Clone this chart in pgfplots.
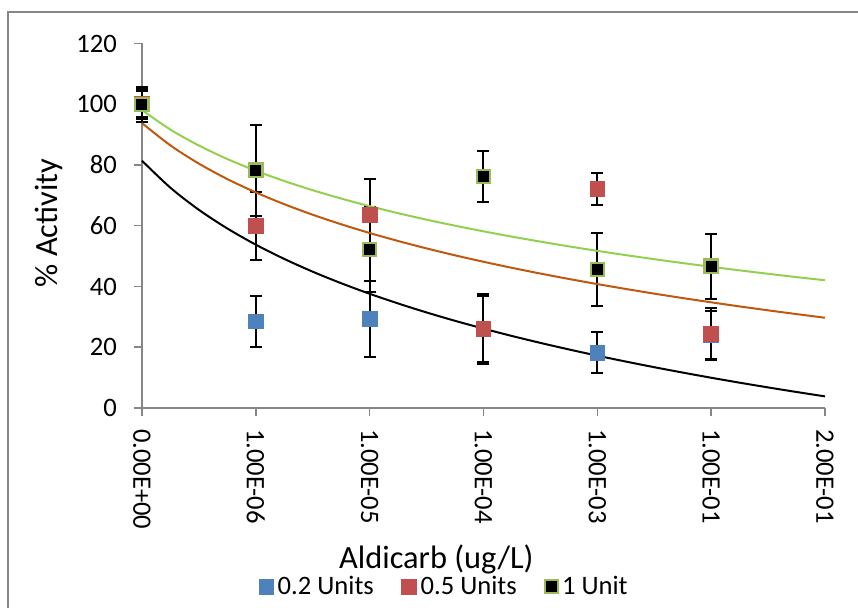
\documentclass[border=0pt]{standalone}
\usepackage{pgfplots}
\pgfplotsset{compat=1.18}
\usepackage{fontspec}
\setmainfont{Carlito}
\definecolor{axgray}{HTML}{868686}
\definecolor{s1}{HTML}{4F81BD}
\definecolor{s2}{HTML}{C0504D}
\definecolor{s3}{HTML}{9BBB59}
\definecolor{t2}{HTML}{C0580E}
\definecolor{t3}{HTML}{92D050}
\begin{document}
\begin{tikzpicture}[x=1pt,y=1pt]
\useasboundingbox (0,0) rectangle (429,304);
\draw[axgray, line width=0.75pt] (4,-5) -- (4,298) -- (435,298);
\begin{axis}[
  at={(71pt,100pt)}, anchor=south west,
  scale only axis, width=341.5pt, height=182.25pt,
  xmin=0, xmax=6, ymin=0, ymax=120,
  axis x line*=bottom, axis y line*=left,
  axis line style={axgray, line width=0.75pt, -},
  xtick={0,1,2,3,4,5,6}, ytick={0,20,40,60,80,100,120},
  xticklabels={0.00E+00,1.00E-06,1.00E-05,1.00E-04,1.00E-03,1.00E-01,2.00E-01},
  tick align=outside, major tick length=4pt,
  tick style={axgray, line width=0.75pt},
  xticklabel style={yshift=-3pt, rotate=-90, anchor=west, font=\fontsize{13.3}{16}\selectfont},
  yticklabel style={xshift=-5pt, font=\fontsize{13.3}{16}\selectfont},
  /pgf/number format/assume math mode=true,
  xlabel={Aldicarb (ug/L)}, ylabel={\% Activity},
  xlabel style={at={(axis description cs:0.431,-0.439)}, anchor=base, font=\fontsize{16.2}{19}\selectfont},
  ylabel style={at={(axis description cs:-0.123,0.5075)}, anchor=base, font=\fontsize{16.2}{19}\selectfont},
  clip=false,
  legend columns=3,
  legend style={at={(axis description cs:0.444,-0.49)}, anchor=center, draw=none, fill=none,
    font=\fontsize{13.3}{16}\selectfont, /tikz/every even column/.append style={column sep=12pt}},
  legend cell align=left,
]
% error bars
\addplot[forget plot, only marks, mark=none,
  error bars/.cd, y dir=both, y explicit,
  error bar style={draw=black, line width=1pt},
  error mark options={draw=black, rotate=90, mark size=3pt, line width=1pt}]
  table[x=x, y=y, y error=e] {
x y e
0 100 4.2
1 28.5 8.3
2 29.4 12.5
3 26.0 11.5
4 18.2 6.8
5 24.0 8.0
};
\addplot[forget plot, only marks, mark=none,
  error bars/.cd, y dir=both, y explicit,
  error bar style={draw=black, line width=1pt},
  error mark options={draw=black, rotate=90, mark size=3pt, line width=1pt}]
  table[x=x, y=y, y error=e] {
x y e
0 100 5.0
1 60.0 11.2
2 63.7 11.7
3 26.0 11.0
4 72.0 5.3
5 24.4 8.5
};
\addplot[forget plot, only marks, mark=none,
  error bars/.cd, y dir=both, y explicit,
  error bar style={draw=black, line width=1pt},
  error mark options={draw=black, rotate=90, mark size=3pt, line width=1pt}]
  table[x=x, y=y, y error=e] {
x y e
0 100 5.7
1 78.3 15.0
2 52.2 14.0
3 76.2 8.5
4 45.6 12.1
5 46.7 10.7
};
% markers
\addplot[only marks, mark=square*, mark size=3.7pt, mark options={fill=s1, draw=s1}]
  coordinates {(0,100) (1,28.5) (2,29.4) (3,26.0) (4,18.2) (5,24.0)};
\addlegendentry{0.2 Units}
\addplot[only marks, mark=square*, mark size=3.7pt, mark options={fill=s2, draw=s2}]
  coordinates {(0,100) (1,60.0) (2,63.7) (3,26.0) (4,72.0) (5,24.4)};
\addlegendentry{0.5 Units}
\addplot[only marks, mark=square*, mark size=3.3pt, mark options={fill=black, draw=s3, line width=1.1pt}]
  coordinates {(0,100) (1,78.3) (2,52.2) (3,76.2) (4,45.6) (5,46.7)};
\addlegendentry{1 Unit}
% trend lines
\addplot[forget plot, black, line width=1pt, smooth] coordinates {
(0,81.40) (0.25,72.50) (0.5,65.23) (0.75,59.09) (1,53.76) (1.25,49.07) (1.5,44.87) (1.75,41.07)
(2,37.60) (2.25,34.41) (2.5,31.45) (2.75,28.70) (3,26.13) (3.25,23.71) (3.5,21.43) (3.75,19.28)
(4,17.23) (4.25,15.29) (4.5,13.43) (4.75,11.66) (5,9.96) (5.25,8.33) (5.5,6.77) (5.75,5.27) (6,3.82)};
\addplot[forget plot, t2, line width=1pt, smooth] coordinates {
(0,93.79) (0.25,86.44) (0.5,80.44) (0.75,75.36) (1,70.97) (1.25,67.09) (1.5,63.62) (1.75,60.48)
(2,57.61) (2.25,54.98) (2.5,52.54) (2.75,50.26) (3,48.14) (3.25,46.14) (3.5,44.26) (3.75,42.48)
(4,40.79) (4.25,39.19) (4.5,37.65) (4.75,36.19) (5,34.79) (5.25,33.44) (5.5,32.15) (5.75,30.91) (6,29.71)};
\addplot[forget plot, t3, line width=1pt, smooth] coordinates {
(0,98.07) (0.25,91.65) (0.5,86.40) (0.75,81.96) (1,78.11) (1.25,74.72) (1.5,71.69) (1.75,68.95)
(2,66.44) (2.25,64.14) (2.5,62.00) (2.75,60.02) (3,58.16) (3.25,56.41) (3.5,54.77) (3.75,53.21)
(4,51.73) (4.25,50.33) (4.5,48.99) (4.75,47.71) (5,46.49) (5.25,45.31) (5.5,44.18) (5.75,43.09) (6,42.05)};
\end{axis}
\end{tikzpicture}
\end{document}
